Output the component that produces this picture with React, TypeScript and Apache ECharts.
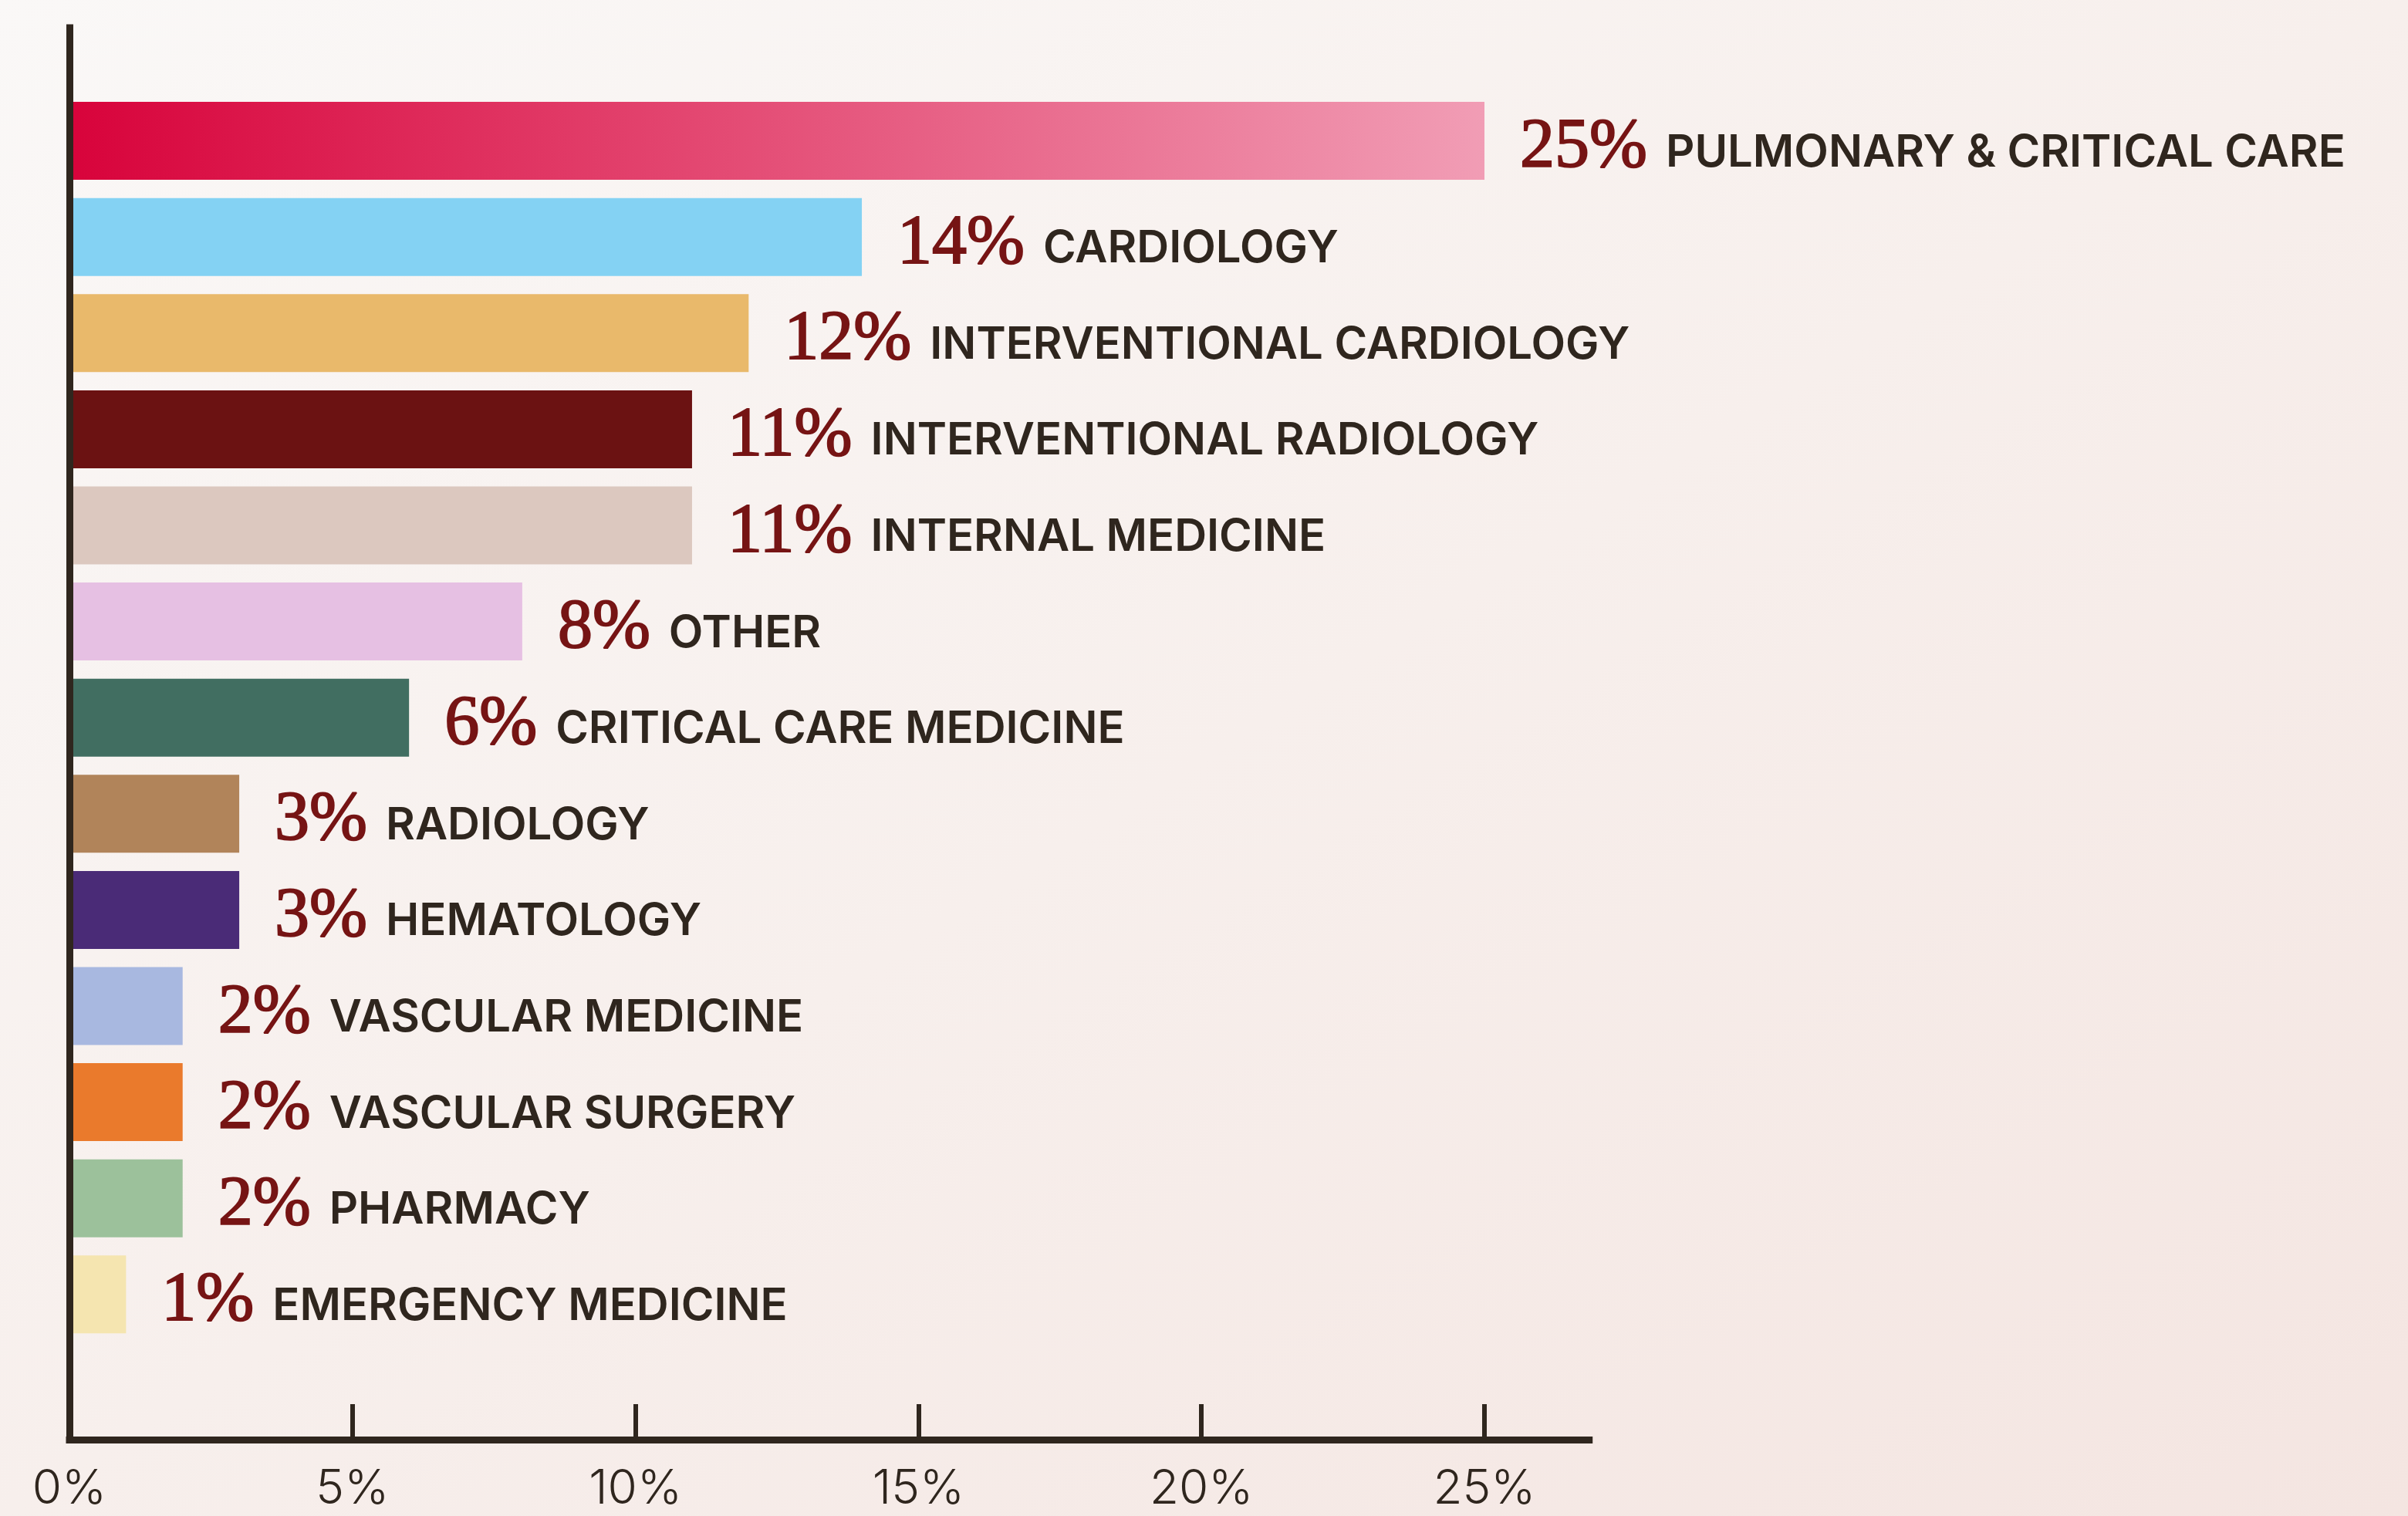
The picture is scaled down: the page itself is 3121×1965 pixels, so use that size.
import React, { useEffect, useRef } from "react";
import * as echarts from "echarts";

const categories = [
  "PULMONARY & CRITICAL CARE",
  "CARDIOLOGY",
  "INTERVENTIONAL CARDIOLOGY",
  "INTERVENTIONAL RADIOLOGY",
  "INTERNAL MEDICINE",
  "OTHER",
  "CRITICAL CARE MEDICINE",
  "RADIOLOGY",
  "HEMATOLOGY",
  "VASCULAR MEDICINE",
  "VASCULAR SURGERY",
  "PHARMACY",
  "EMERGENCY MEDICINE",
];
const values = [25, 14, 12, 11, 11, 8, 6, 3, 3, 2, 2, 2, 1];
const barColors = [
  "#d8033b",
  "#84d2f3",
  "#e9b96b",
  "#6b1212",
  "#dcc8bf",
  "#e6c0e3",
  "#416e61",
  "#b1845a",
  "#4a2b77",
  "#a8b8e0",
  "#ea7a2c",
  "#9cc19b",
  "#f5e5b0",
];
const firstBarGradient = ["#d8033b", "#f19db5"];
const xTickValues = [0, 5, 10, 15, 20, 25];

const W = 3121;
const H = 1965;
const AXIS_COLOR = "#2f261e";
const NUM_COLOR = "#761414";
const LEFT = 90;
const XMAX = 26.85;
const PX_PER_UNIT = (1924 - 90) / 25;
const GRID_W = XMAX * PX_PER_UNIT;
const BAND = 124.6;

export default function App() {
  const ref = useRef<HTMLDivElement>(null);
  useEffect(() => {
    if (!ref.current) return;
    const chart = echarts.init(ref.current, undefined, { renderer: "svg" });
    const data = values.map((v, i) => ({
      value: v,
      itemStyle: {
        color:
          i === 0
            ? new echarts.graphic.LinearGradient(0, 0, 1, 0, [
                { offset: 0, color: firstBarGradient[0] },
                { offset: 1, color: firstBarGradient[1] },
              ])
            : barColors[i],
      },
    }));
    const option: any = {
      animation: false,
      backgroundColor: new echarts.graphic.LinearGradient(0, 0, 1, 1, [
        { offset: 0, color: "#faf8f7" },
        { offset: 0.5, color: "#f7efec" },
        { offset: 1, color: "#f4e5e1" },
      ]),
      grid: [
        {
          left: LEFT,
          width: GRID_W,
          top: 182.6 - BAND / 2,
          height: BAND * categories.length,
          containLabel: false,
        },
        {
          left: LEFT,
          width: GRID_W,
          top: 36,
          height: 1866 - 36,
          containLabel: false,
        },
      ],
      xAxis: [
        {
          gridIndex: 0,
          type: "value",
          min: 0,
          max: XMAX,
          show: false,
          splitLine: { show: false },
        },
        {
          gridIndex: 1,
          type: "value",
          min: 0,
          max: XMAX,
          z: 10,
          axisLine: {
            show: true,
            onZero: false,
            lineStyle: { color: AXIS_COLOR, width: 9, cap: "square" },
          },
          axisTick: {
            show: true,
            inside: true,
            length: 46,
            customValues: xTickValues,
            lineStyle: { color: AXIS_COLOR, width: 6 },
          },
          axisLabel: {
            show: true,
            customValues: xTickValues,
            formatter: "{value}%",
            fontFamily: "Inter",
            fontWeight: 300,
            fontSize: 62,
            lineHeight: 54,
            color: AXIS_COLOR,
            margin: 33,
          },
          splitLine: { show: false },
        },
      ],
      yAxis: [
        {
          gridIndex: 0,
          type: "category",
          inverse: true,
          data: categories,
          show: false,
        },
        {
          gridIndex: 1,
          type: "value",
          min: 0,
          max: 1,
          z: 10,
          axisLine: {
            show: true,
            onZero: false,
            lineStyle: { color: AXIS_COLOR, width: 9, cap: "square" },
          },
          axisTick: { show: false },
          axisLabel: { show: false },
          splitLine: { show: false },
        },
      ],
      series: [
        {
          type: "bar",
          xAxisIndex: 0,
          yAxisIndex: 0,
          barWidth: 101,
          data,
          label: {
            show: true,
            position: "right",
            distance: 46,
            offset: [0, 3],
            formatter: (p: any) => `{n|${p.value}%}{t|${p.name}}`,
            rich: {
              n: {
                fontFamily: '"Liberation Serif", serif',
                fontSize: 90,
                color: NUM_COLOR,
                textBorderColor: NUM_COLOR,
                textBorderWidth: 2,
                padding: [0, 24, 0, 0],
              },
              t: {
                fontFamily: "Inter",
                fontWeight: 600,
                fontSize: 58,
                color: AXIS_COLOR,
                padding: [18, 0, 0, 0],
              },
            },
          },
        },
      ],
    };
    chart.setOption(option);
    return () => chart.dispose();
  }, []);
  return (
    <div
      ref={ref}
      style={{ position: "absolute", left: 0, top: 0, width: W, height: H }}
    />
  );
}
